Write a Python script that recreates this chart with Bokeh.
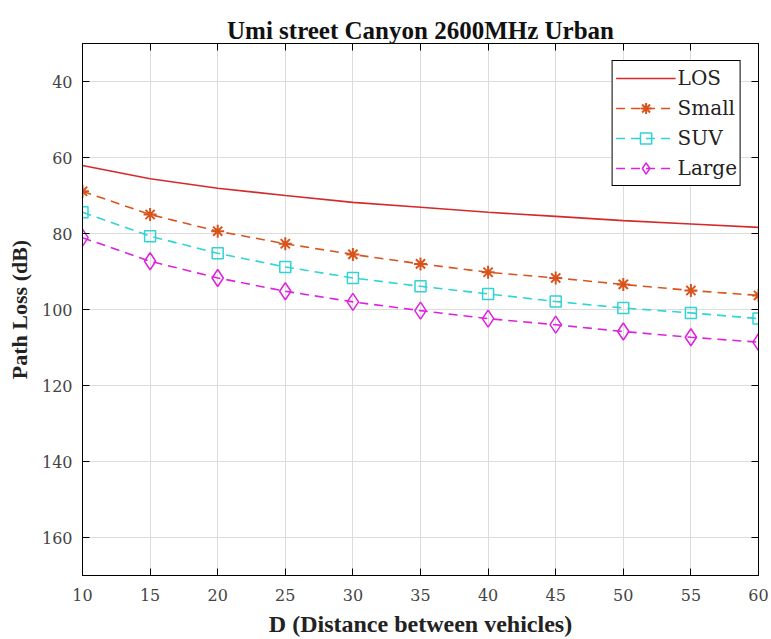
from bokeh.plotting import figure
from bokeh.models import Range1d, LinearAxis, FixedTicker, Legend, LegendItem
from bokeh.embed import file_html
from bokeh.resources import INLINE

distance = [10, 15, 20, 25, 30, 35, 40, 45, 50, 55, 60]
los = [62.1, 65.6, 68.1, 70.0, 71.8, 73.1, 74.4, 75.5, 76.6, 77.5, 78.4]
small = [68.9, 75.0, 79.4, 82.7, 85.5, 88.0, 90.2, 91.7, 93.4, 95.0, 96.3]
suv = [74.4, 80.7, 85.2, 88.8, 91.7, 93.9, 95.9, 97.9, 99.6, 100.9, 102.4]
large = [81.1, 87.3, 91.7, 95.2, 98.0, 100.3, 102.4, 104.0, 105.8, 107.3, 108.6]
x_ticks = [10, 15, 20, 25, 30, 35, 40, 45, 50, 55, 60]
y_ticks = [40, 60, 80, 100, 120, 140, 160]

BOLD_FONT = "Liberation Serif"
REG_FONT = "DejaVu Serif"

p = figure(width=771, height=639, output_backend="svg", toolbar_location=None,
           x_range=Range1d(10, 60), y_range=Range1d(170, 30),
           min_border_left=82, min_border_right=13, min_border_top=43, min_border_bottom=62)

p.title.text = "Umi street Canyon 2600MHz Urban"
p.title.align = "center"
p.title.text_font = BOLD_FONT
p.title.text_font_size = "25px"
p.title.text_font_style = "bold"
p.title.text_color = "#111111"
p.title.offset = 0
p.title.standoff = 0

p.outline_line_color = "black"
p.outline_line_width = 1
p.outline_line_alpha = 1

for ax, ticks in ((p.xaxis[0], x_ticks), (p.yaxis[0], y_ticks)):
    ax.ticker = FixedTicker(ticks=ticks)
    ax.major_tick_in = 7
    ax.major_tick_out = 0
    ax.minor_tick_line_color = None
    ax.axis_line_color = "black"
    ax.major_tick_line_color = "black"
    ax.major_label_text_font = REG_FONT
    ax.major_label_text_font_size = "16px"
    ax.major_label_text_color = "#444444"
    ax.axis_label_text_font = BOLD_FONT
    ax.axis_label_text_font_style = "bold"
    ax.axis_label_text_color = "#222222"

p.xaxis[0].axis_label = "D (Distance between vehicles)"
p.xaxis[0].axis_label_text_font_size = "24px"
p.xaxis[0].major_label_standoff = 13
p.xaxis[0].axis_label_standoff = 7
p.yaxis[0].axis_label = "Path Loss (dB)"
p.yaxis[0].axis_label_text_font_size = "22px"
p.yaxis[0].major_label_standoff = 10
p.yaxis[0].axis_label_standoff = 7

for loc, ticks, standoff in (("right", y_ticks, 0), ("above", x_ticks, 7)):
    ax = LinearAxis(ticker=FixedTicker(ticks=ticks))
    ax.major_tick_in = 7
    ax.major_tick_out = 0
    ax.minor_tick_line_color = None
    ax.major_label_overrides = {t: "" for t in ticks}
    ax.major_label_text_font_size = "1px"
    ax.major_label_standoff = standoff
    ax.axis_line_color = "black"
    p.add_layout(ax, loc)

p.xgrid.ticker = FixedTicker(ticks=x_ticks)
p.ygrid.ticker = FixedTicker(ticks=y_ticks)
p.grid.grid_line_color = "#dcdcdc"
p.grid.grid_line_width = 1

red = "#d62a2a"
orange = "#d9541c"
cyan = "#2fd4d4"
magenta = "#dd22dd"
dash = "9 6"

r_los = p.line(distance, los, line_color=red, line_width=1.6)

l_small = p.line(distance, small, line_color=orange, line_width=1.6, line_dash=dash)
m_small = p.scatter(distance, small, marker="asterisk", size=13, line_color=orange, line_width=2)

l_suv = p.line(distance, suv, line_color=cyan, line_width=1.6, line_dash=dash)
m_suv = p.scatter(distance, suv, marker="square", size=11, line_color=cyan, fill_color=None, line_width=1.5)

l_large = p.line(distance, large, line_color=magenta, line_width=1.6, line_dash=dash)
m_large = p.scatter(distance, large, marker="diamond", size=17, line_color=magenta, fill_color=None, line_width=1.5)

legend = Legend(items=[
    LegendItem(label="LOS", renderers=[r_los]),
    LegendItem(label="Small", renderers=[l_small, m_small]),
    LegendItem(label="SUV", renderers=[l_suv, m_suv]),
    LegendItem(label="Large", renderers=[l_large, m_large]),
], location="top_right")
legend.margin = 17
legend.padding = 3
legend.spacing = 2
legend.glyph_width = 60
legend.glyph_height = 28
legend.label_standoff = 2
legend.label_text_font = REG_FONT
legend.label_text_font_size = "20px"
legend.label_text_color = "#222222"
legend.border_line_color = "black"
legend.border_line_width = 1
legend.border_line_alpha = 1
legend.background_fill_color = "white"
legend.background_fill_alpha = 1
p.add_layout(legend)

open("out.html", "w").write(file_html(p, INLINE))
